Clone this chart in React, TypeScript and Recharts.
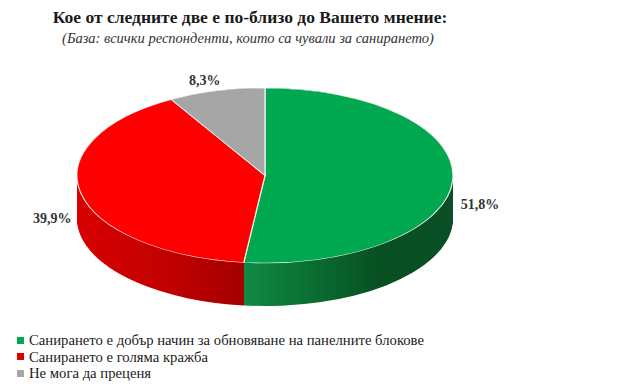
import React from "react";
import { PieChart, Pie, Cell } from "recharts";

const categories = [
  "Санирането е добър начин за обновяване на панелните блокове",
  "Санирането е голяма кражба",
  "Не мога да преценя",
];
const values = [51.8, 39.9, 8.3];
const valueLabels = ["51,8%", "39,9%", "8,3%"];
const topColors = ["#00A84F", "#FF0000", "#A6A6A6"];
const sideFills = ["url(#sideGreen)", "url(#sideRed)", "url(#sideGray)"];
const legendColors = ["#00A84F", "#E00000", "#A6A6A6"];

const TITLE = "Кое от следните две е по-близо до Вашето мнение:";
const SUBTITLE = "(База: всички респонденти, които са чували за санирането)";

const data = categories.map((name, i) => ({ name, value: values[i], label: valueLabels[i] }));

// geometry (screen px)
const CX = 265;
const CY = 175.5;
const RX = 188;
const RY = 87.5;
const DEPTH = 43;
const K = RY / RX;
const CY_PRE = CY / K;
const DEPTH_PRE = DEPTH / K;
const CHART_H = (CY + RY + DEPTH + 12) / K;
const N_LAYERS = 48;
const layerOffsets = Array.from({ length: N_LAYERS }, (_, i) => DEPTH_PRE * (1 - i / (N_LAYERS - 1)));

const serif = '"Liberation Serif", "Times New Roman", Times, "DejaVu Serif", serif';

const renderLabel = (props: any) => {
  const { midAngle, index } = props;
  const t = (midAngle * Math.PI) / 180;
  const c = Math.cos(t);
  const s = Math.sin(t);
  const x = CX + (RX + 8 + 40 * s * s) * c;
  const yScreen = CY - (RY + 12) * s + 0.55 * DEPTH * c * c;
  const anchor = Math.abs(c) < 0.4 ? "middle" : c > 0 ? "start" : "end";
  return (
    <text
      key={`lbl-${index}`}
      transform={`translate(${x},${yScreen / K}) scale(1,${1 / K})`}
      textAnchor={anchor}
      dominantBaseline="central"
      style={{ fontFamily: serif, fontWeight: 700, fontSize: 14 }}
      fill="#333333"
    >
      {valueLabels[index]}
    </text>
  );
};

export default function App() {
  return (
    <div
      style={{
        position: "absolute",
        left: 0,
        top: 0,
        width: 626,
        height: 392,
        background: "#ffffff",
        overflow: "hidden",
        fontFamily: serif,
      }}
    >
      <svg width={0} height={0} style={{ position: "absolute" }}>
        <defs>
          <linearGradient id="sideGreen" gradientUnits="userSpaceOnUse" x1={77} y1={0} x2={453} y2={0}>
            <stop offset="0.43" stopColor="#0f8c44" />
            <stop offset="0.6" stopColor="#0b7235" />
            <stop offset="0.8" stopColor="#075021" />
            <stop offset="1" stopColor="#0a4f27" />
          </linearGradient>
          <linearGradient id="sideRed" gradientUnits="userSpaceOnUse" x1={77} y1={0} x2={453} y2={0}>
            <stop offset="0" stopColor="#d80000" />
            <stop offset="0.22" stopColor="#c40000" />
            <stop offset="0.434" stopColor="#a60000" />
          </linearGradient>
          <linearGradient id="sideGray" gradientUnits="userSpaceOnUse" x1={77} y1={0} x2={453} y2={0}>
            <stop offset="0" stopColor="#7f7f7f" />
            <stop offset="1" stopColor="#6a6a6a" />
          </linearGradient>
        </defs>
      </svg>

      <div
        style={{
          position: "absolute",
          left: 0,
          top: 7,
          width: 500,
          textAlign: "center",
          fontWeight: "bold",
          fontSize: 17.5,
          color: "#1a1a1a",
          whiteSpace: "nowrap",
        }}
      >
        {TITLE}
      </div>
      <div
        style={{
          position: "absolute",
          left: 0,
          top: 30,
          width: 496,
          textAlign: "center",
          fontStyle: "italic",
          fontSize: 14.5,
          color: "#333333",
          whiteSpace: "nowrap",
        }}
      >
        {SUBTITLE}
      </div>

      <div
        style={{
          position: "absolute",
          left: 0,
          top: 0,
          width: 626,
          height: CHART_H,
          transform: `scaleY(${K})`,
          transformOrigin: "0 0",
        }}
      >
        <PieChart width={626} height={CHART_H} margin={{ top: 0, right: 0, bottom: 0, left: 0 }}>
          {layerOffsets.map((off, li) => (
            <Pie
              key={`layer-${li}`}
              data={data}
              dataKey="value"
              cx={CX}
              cy={CY_PRE + off}
              innerRadius={0}
              outerRadius={RX}
              startAngle={90}
              endAngle={-270}
              stroke="none"
              isAnimationActive={false}
              labelLine={false}
            >
              {data.map((d, i) => (
                <Cell key={`c-${li}-${i}`} fill={sideFills[i]} stroke="none" />
              ))}
            </Pie>
          ))}
          <Pie
            data={data}
            dataKey="value"
            cx={CX}
            cy={CY_PRE}
            innerRadius={0}
            outerRadius={RX}
            startAngle={90}
            endAngle={-270}
            stroke="#f2f2f2"
            strokeWidth={1.2}
            isAnimationActive={false}
            labelLine={false}
            label={renderLabel}
          >
            {data.map((d, i) => (
              <Cell key={`top-${i}`} fill={topColors[i]} />
            ))}
          </Pie>
        </PieChart>
      </div>

      <div style={{ position: "absolute", left: 17, top: 332, fontSize: 14.7, color: "#1a1a1a", lineHeight: "16.5px" }}>
        {categories.map((name, i) => (
          <div key={name} style={{ display: "flex", alignItems: "center", whiteSpace: "nowrap" }}>
            <span
              style={{
                display: "inline-block",
                width: 7,
                height: 7,
                background: legendColors[i],
                marginRight: 5,
              }}
            />
            <span>{name}</span>
          </div>
        ))}
      </div>
    </div>
  );
}
